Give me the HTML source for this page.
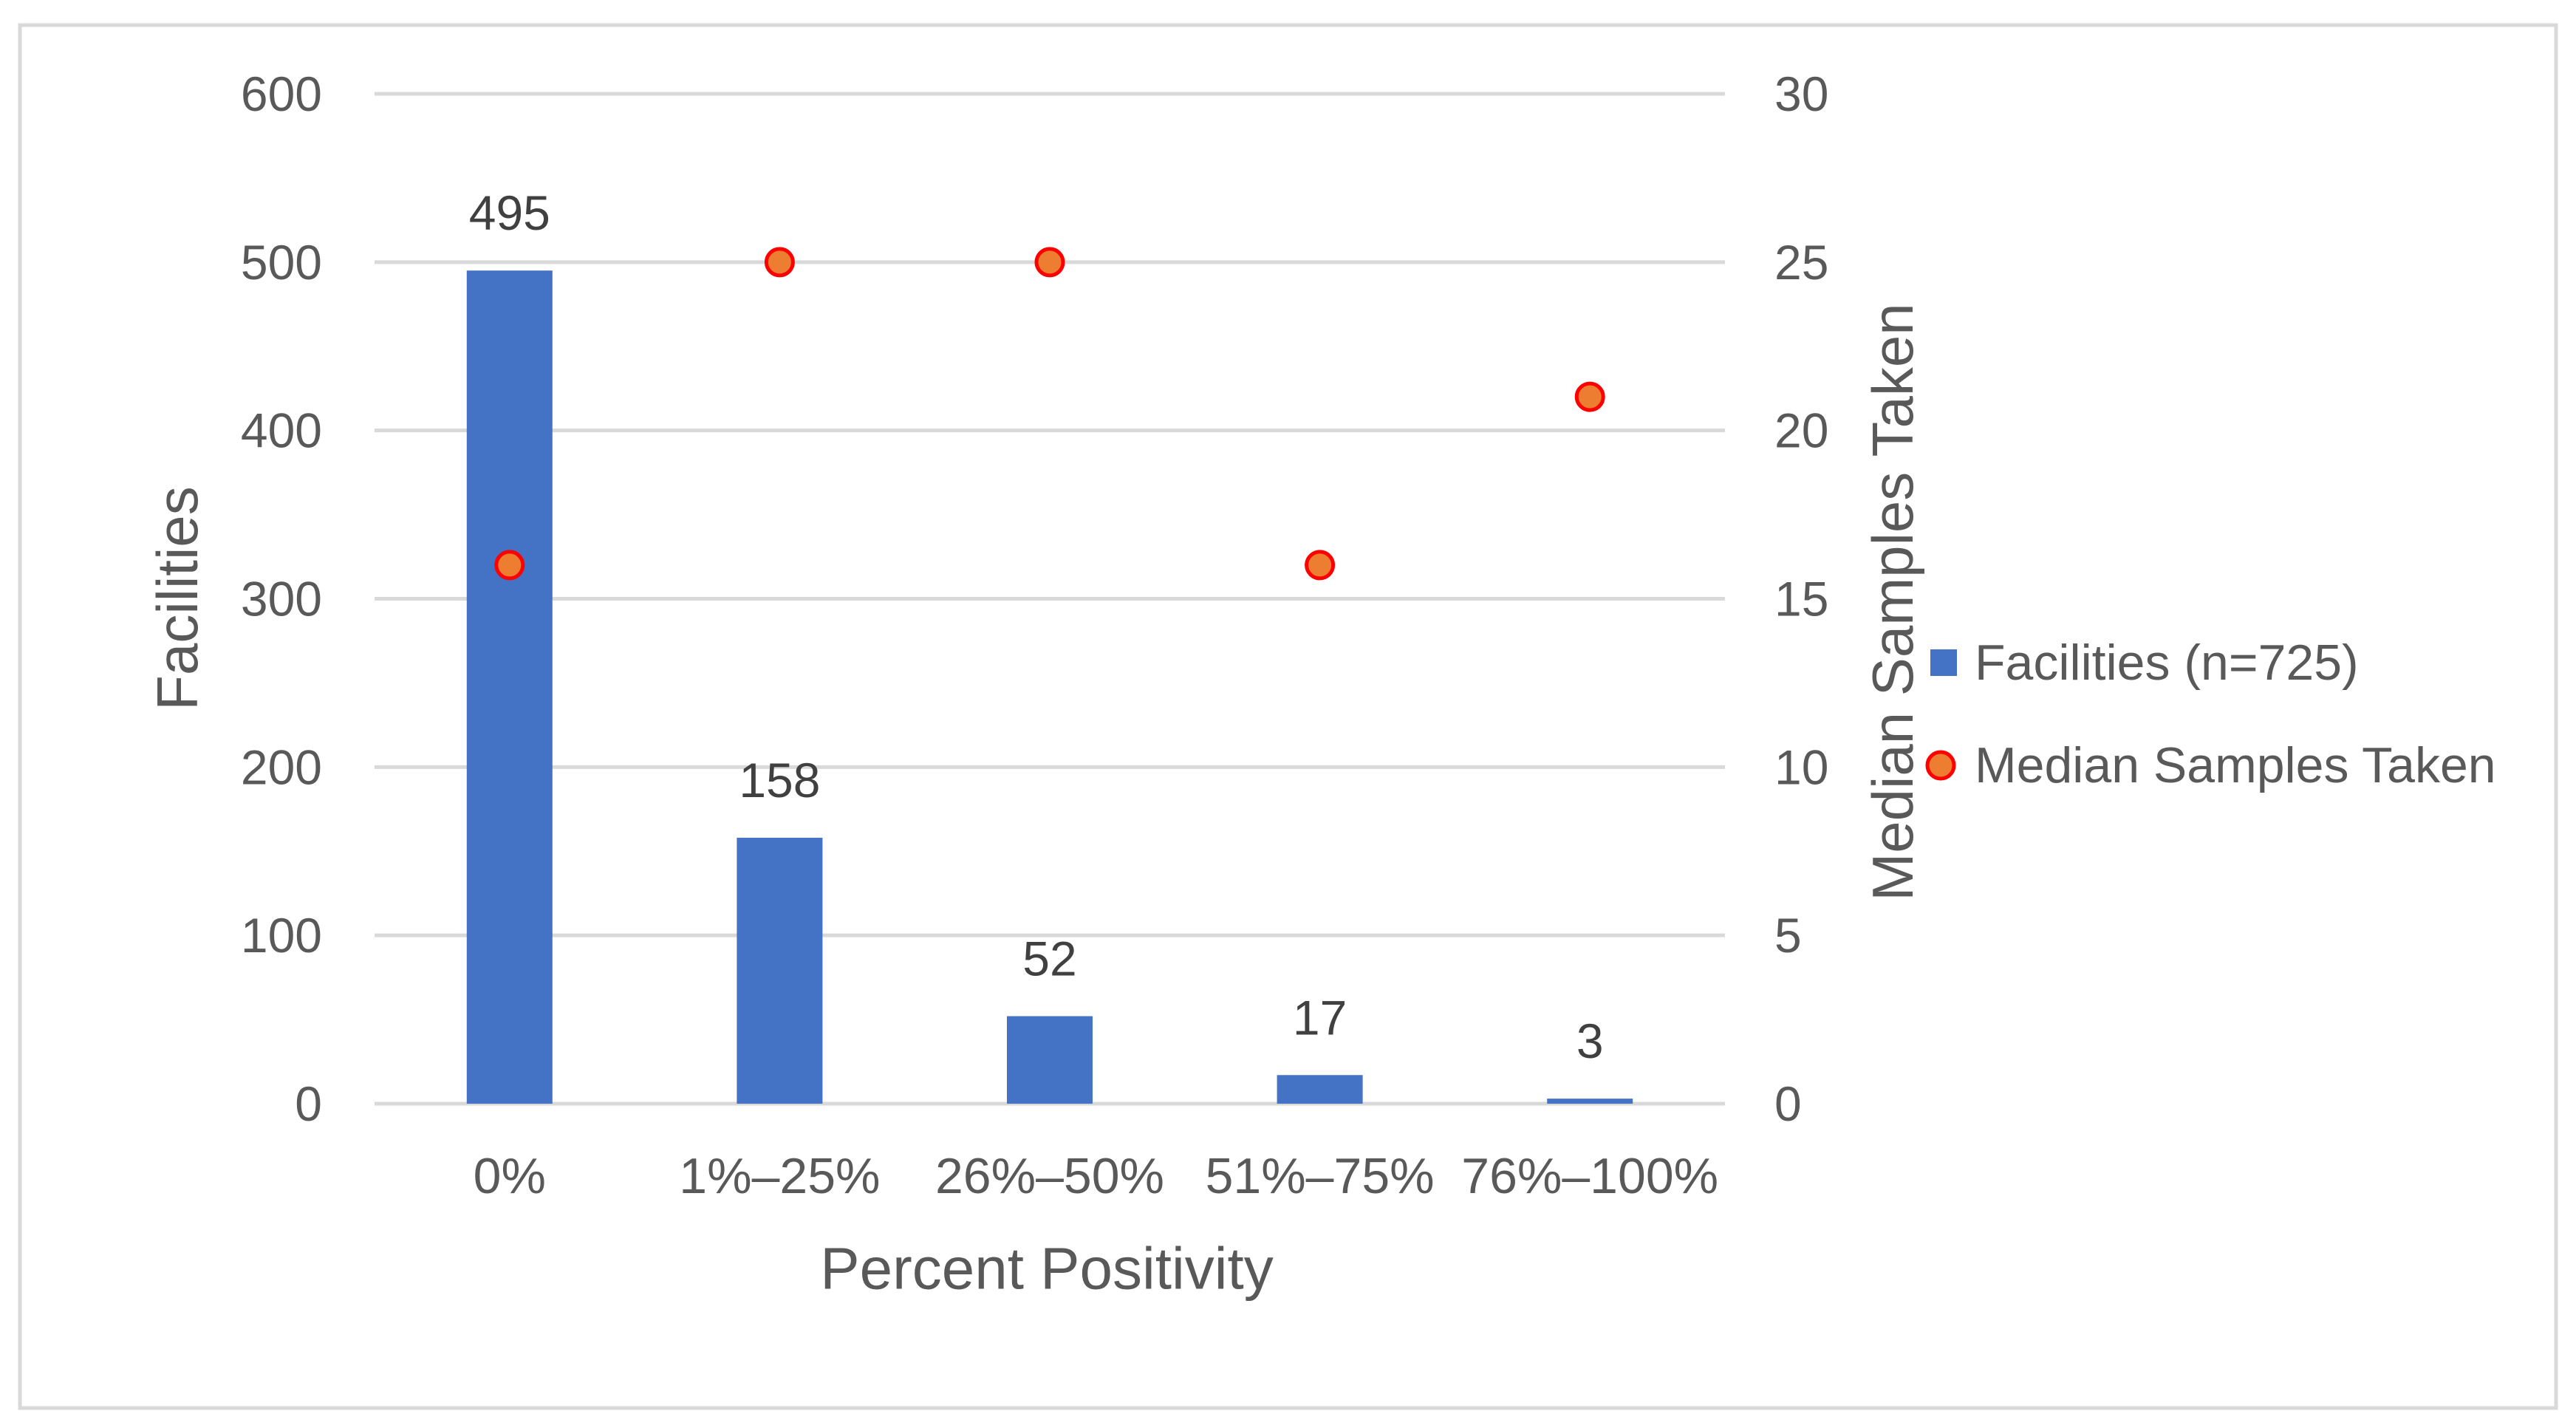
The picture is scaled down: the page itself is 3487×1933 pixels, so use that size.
<!DOCTYPE html>
<html><head><meta charset="utf-8"><style>
html,body{margin:0;padding:0;background:#fff;}
svg{display:block;font-family:"Liberation Sans",sans-serif;}
</style></head><body>
<svg id="chart" width="3487" height="1933" viewBox="0 0 3487 1933">
<rect x="27" y="34" width="3433" height="1872" fill="#fff" stroke="#d9d9d9" stroke-width="5"/>
<g id="grid"></g><g id="bars"></g><g id="dots"></g><g id="labels"></g>
<text x="240" y="810" transform="rotate(-90 240 810)" text-anchor="middle" dominant-baseline="central" font-size="78" fill="#595959">Facilities</text>
<text x="2562" y="815" transform="rotate(-90 2562 815)" text-anchor="middle" dominant-baseline="central" font-size="78" fill="#595959">Median Samples Taken</text>
<text x="1417" y="1717" text-anchor="middle" dominant-baseline="central" font-size="80" fill="#595959">Percent Positivity</text>
<g>
<rect x="2613" y="879" width="36" height="36" fill="#4472C4"/>
<text x="2673" y="897" dominant-baseline="central" font-size="68" fill="#595959">Facilities (n=725)</text>
<circle cx="2627" cy="1036" r="18" fill="#ED7D31" stroke="#FF0000" stroke-width="5"/>
<text x="2673" y="1036" dominant-baseline="central" font-size="68" fill="#595959">Median Samples Taken</text>
</g>
</svg>
<script>
const categories = ["0%", "1%\u201325%", "26%\u201350%", "51%\u201375%", "76%\u2013100%"];
const facilities = [495, 158, 52, 17, 3];
const medianSamples = [16, 25, 25, 16, 21];
const leftTicks = [0, 100, 200, 300, 400, 500, 600];
const rightTicks = [0, 5, 10, 15, 20, 25, 30];

const NS = "http://www.w3.org/2000/svg";
const X0 = 507, X1 = 2335, Y0 = 1494, Y1 = 127;
const yL = v => Y0 - (v / 600) * (Y0 - Y1);
const yR = v => Y0 - (v / 30) * (Y0 - Y1);
const band = (X1 - X0) / categories.length;
const xC = i => X0 + band * (i + 0.5);
const barW = 116;

function mk(tag, attrs, parent, txt) {
  const e = document.createElementNS(NS, tag);
  for (const k in attrs) e.setAttribute(k, attrs[k]);
  if (txt !== undefined) e.textContent = txt;
  document.getElementById(parent).appendChild(e);
  return e;
}

leftTicks.forEach((t, i) => {
  const l = mk("line", {x1: X0, x2: X1, y1: yL(t), y2: yL(t), stroke: "#d9d9d9", "stroke-width": 5}, "grid");
  
  
  const a = mk("text", {x: 436, y: yL(t), "text-anchor": "end", "dominant-baseline": "central", "font-size": 66, fill: "#595959"}, "labels", String(t));
  
  
});
rightTicks.forEach(t => {
  const a = mk("text", {x: 2402, y: yR(t), "dominant-baseline": "central", "font-size": 66, fill: "#595959"}, "labels", String(t));
  
  
});
categories.forEach((c, i) => {
  const a = mk("text", {x: xC(i), y: 1592, "text-anchor": "middle", "dominant-baseline": "central", "font-size": 68, fill: "#595959"}, "labels", c);
  
  
});
facilities.forEach((v, i) => {
  const b = mk("rect", {x: xC(i) - barW / 2, y: yL(v), width: barW, height: Y0 - yL(v), fill: "#4472C4"}, "bars");
  
  
  const t = mk("text", {x: xC(i), y: yL(v) - 78, "text-anchor": "middle", "dominant-baseline": "central", "font-size": 66, fill: "#404040"}, "labels", String(v));
  
  
});
medianSamples.forEach((v, i) => {
  const d = mk("circle", {cx: xC(i), cy: yR(v), r: 18, fill: "#ED7D31", stroke: "#FF0000", "stroke-width": 5}, "dots");
  
  
});
</script>
</body></html>
